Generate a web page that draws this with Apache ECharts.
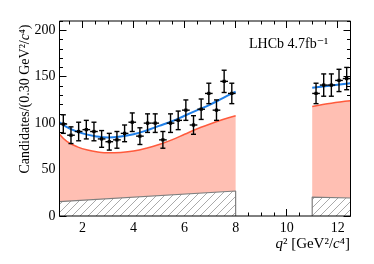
<!DOCTYPE html>
<html>
<head>
<meta charset="utf-8">
<script src="https://cdn.jsdelivr.net/npm/echarts@6/dist/echarts.min.js"></script>
<style>html,body{margin:0;padding:0;background:#fff}#c{width:374px;height:264px}</style>
</head>
<body>
<div id="c"></div>
<script>
// ---- data ----
const binCentersLow = [1.25,1.55,1.85,2.15,2.45,2.75,3.05,3.35,3.65,3.95,4.25,4.55,4.85,5.15,5.45,5.75,6.05,6.35,6.65,6.95,7.25,7.55,7.85];
const countsLow     = [99,87,91,93,91,83,80,82,89,101,86,100,100,82,100,103,114,98,115,132,114,145,132];
const errorsLow     = [10,9,10,10,10,9,9,9,9,10,9,10,10,9,10,10,11,10,11,11,11,12,11];
const binCentersHigh = [11.15,11.45,11.75,12.05,12.35];
const countsHigh     = [132,141,141,146,148];
const errorsHigh     = [11,12,12,12,12];
const binHalfWidth = 0.15;

const fitXLow   = [1.1,1.5,2.0,2.5,3.0,3.5,4.0,4.5,5.0,5.5,6.0,6.5,7.0,7.5,8.0];
const totalLow  = [101,94,89,86,84.5,85.5,88,92,97,102,108,114,120,127,134];
const redXLow   = [1.1,1.4,1.8,2.2,2.6,3.0,3.5,4.0,4.5,5.0,5.5,6.0,6.5,7.0,7.5,8.0];
const redLow    = [88,80,74.5,71,69,68,68.5,70,73,77,82,88,94,99,104,108];
const fitXHigh  = [11.0,11.75,12.5];
const totalHigh = [138,140.5,143];
const redHigh   = [118,121.5,124];
const bkgXLow   = [1.1,8.0];
const bkgLow    = [15.4,26.9];
const bkgXHigh  = [11.0,12.5];
const bkgHigh   = [20.4,19.4];

// axis ranges and tick steps
const X_MIN = 1.1, X_MAX = 12.5, Y_MIN = 0, Y_MAX = 210;
const X_MAJOR = 2, X_MINOR = 0.5, Y_MAJOR = 50, Y_MINOR = 10;

// ---- layout ----
const FONT = '"Liberation Serif", "DejaVu Serif", serif';
const G = { left: 59.5, top: 21, width: 291, height: 195 };
const ppx = G.width / (X_MAX - X_MIN);
const ppy = G.height / (Y_MAX - Y_MIN);
const zip = (xs, ys) => xs.map((x, i) => [x, ys[i]]);

// tick grids whose axis minimum is a multiple of the tick interval, aligned with the main grid
function xTickGrid(step) {
  const lo = Math.ceil(X_MIN / step - 1e-9) * step, hi = Math.floor(X_MAX / step + 1e-9) * step;
  return { lo, hi, grid: { left: G.left + (lo - X_MIN) * ppx, top: G.top, width: (hi - lo) * ppx, height: G.height, show: false } };
}
function yTickGrid(step) {
  const lo = Math.ceil(Y_MIN / step - 1e-9) * step, hi = Math.floor(Y_MAX / step + 1e-9) * step;
  return { lo, hi, grid: { left: G.left, top: G.top + (Y_MAX - hi) * ppy, width: G.width, height: (hi - lo) * ppy, show: false } };
}
const gxMaj = xTickGrid(X_MAJOR), gxMin = xTickGrid(X_MINOR), gyMaj = yTickGrid(Y_MAJOR), gyMin = yTickGrid(Y_MINOR);

const hidden = (type, gi, min, max) => ({ type: 'value', gridIndex: gi, min, max, show: false });
function tickX(gi, g, step, pos, len, labels) {
  return { type: 'value', gridIndex: gi, min: g.lo, max: g.hi, interval: step, position: pos,
    axisLine: { show: false },
    axisTick: { show: true, inside: true, length: len, lineStyle: { color: '#000', width: 1 } },
    axisLabel: labels ? { show: true, margin: 5, color: '#000', fontFamily: FONT, fontSize: 14, showMinLabel: true, showMaxLabel: true } : { show: false },
    splitLine: { show: false } };
}
function tickY(gi, g, step, pos, len, labels) {
  return { type: 'value', gridIndex: gi, min: g.lo, max: g.hi, interval: step, position: pos,
    axisLine: { show: false },
    axisTick: { show: true, inside: true, length: len, lineStyle: { color: '#000', width: 1 } },
    axisLabel: labels ? { show: true, margin: 4, color: '#000', fontFamily: FONT, fontSize: 14, showMinLabel: true, showMaxLabel: true } : { show: false },
    splitLine: { show: false } };
}

const hatch = document.createElement('canvas');
hatch.width = 8; hatch.height = 8;
(function(){
  const g = hatch.getContext('2d');
  g.fillStyle = '#ffffff'; g.fillRect(0,0,8,8);
  g.strokeStyle = '#a0a0a0'; g.lineWidth = 0.9;
  g.beginPath(); g.moveTo(0,8); g.lineTo(8,0); g.stroke();
  g.beginPath(); g.moveTo(-1,1); g.lineTo(1,-1); g.stroke();
  g.beginPath(); g.moveTo(7,9); g.lineTo(9,7); g.stroke();
})();

function errRender(params, api) {
  const x = api.value(0), y = api.value(1), e = api.value(2);
  const c = api.coord([x, y]);
  const l = api.coord([x - binHalfWidth, y]);
  const r = api.coord([x + binHalfWidth, y]);
  const t = api.coord([x, y + e]);
  const b = api.coord([x, y - e]);
  const st = { stroke: '#000', lineWidth: 1.4 };
  return { type: 'group', children: [
    { type: 'line', shape: { x1: l[0], y1: c[1], x2: r[0], y2: c[1] }, style: st },
    { type: 'line', shape: { x1: c[0], y1: t[1], x2: c[0], y2: b[1] }, style: st },
    { type: 'line', shape: { x1: c[0]-2.5, y1: t[1], x2: c[0]+2.5, y2: t[1] }, style: st },
    { type: 'line', shape: { x1: c[0]-2.5, y1: b[1], x2: c[0]+2.5, y2: b[1] }, style: st },
    { type: 'rect', shape: { x: c[0]-1.6, y: c[1]-1.6, width: 3.2, height: 3.2 }, style: { fill: '#000' } }
  ] };
}

const chart = echarts.init(document.getElementById('c'), null, { renderer: 'canvas' });
const redArea = { color: '#ffbfb3', opacity: 1 };
const redLine = { color: '#ff5a3c', width: 1.5 };
const blueLine = { color: '#1f7fe8', width: 2 };
const bkgLine = { color: '#7f7f7f', width: 1.2 };
const hatchArea = { color: { image: hatch, repeat: 'repeat' }, opacity: 1 };

chart.setOption({
  animation: false,
  backgroundColor: '#fff',
  grid: [
    { left: G.left, top: G.top, width: G.width, height: G.height, show: true, borderColor: '#000', borderWidth: 1, backgroundColor: 'transparent', z: 10 },
    gxMaj.grid, gxMin.grid, gyMaj.grid, gyMin.grid
  ],
  xAxis: [
    hidden('x', 0, X_MIN, X_MAX),
    tickX(1, gxMaj, X_MAJOR, 'bottom', 7, true),
    tickX(1, gxMaj, X_MAJOR, 'top', 7, false),
    tickX(2, gxMin, X_MINOR, 'bottom', 3.5, false),
    tickX(2, gxMin, X_MINOR, 'top', 3.5, false),
    hidden('x', 3, X_MIN, X_MAX),
    hidden('x', 4, X_MIN, X_MAX)
  ],
  yAxis: [
    hidden('y', 0, Y_MIN, Y_MAX),
    hidden('y', 1, Y_MIN, Y_MAX),
    hidden('y', 2, Y_MIN, Y_MAX),
    tickY(3, gyMaj, Y_MAJOR, 'left', 7, true),
    tickY(3, gyMaj, Y_MAJOR, 'right', 7, false),
    tickY(4, gyMin, Y_MINOR, 'left', 3.5, false),
    tickY(4, gyMin, Y_MINOR, 'right', 3.5, false)
  ],
  series: [
    { type: 'line', data: zip(redXLow, redLow), smooth: 0.4, symbol: 'none', lineStyle: redLine, areaStyle: redArea, z: 1 },
    { type: 'line', data: zip(fitXHigh, redHigh), smooth: 0.4, symbol: 'none', lineStyle: redLine, areaStyle: redArea, z: 1 },
    { type: 'line', data: zip(bkgXLow, bkgLow).concat([[bkgXLow[1], 0]]), symbol: 'none', lineStyle: bkgLine, areaStyle: hatchArea, z: 2 },
    { type: 'line', data: [[bkgXHigh[0], 0]].concat(zip(bkgXHigh, bkgHigh)), symbol: 'none', lineStyle: bkgLine, areaStyle: hatchArea, z: 2 },
    { type: 'line', data: zip(fitXLow, totalLow), smooth: 0.4, symbol: 'none', lineStyle: blueLine, z: 3 },
    { type: 'line', data: zip(fitXHigh, totalHigh), smooth: 0.4, symbol: 'none', lineStyle: blueLine, z: 3 },
    { type: 'custom', renderItem: errRender, data: binCentersLow.map((x, i) => [x, countsLow[i], errorsLow[i]]), z: 4, clip: false },
    { type: 'custom', renderItem: errRender, data: binCentersHigh.map((x, i) => [x, countsHigh[i], errorsHigh[i]]), z: 4, clip: false }
  ],
  graphic: [
    { type: 'text', x: 25, y: 99, rotation: Math.PI / 2,
      style: { text: 'Candidates/(0.30 GeV²/{i|c}⁴)', fill: '#000', font: '14px ' + FONT, align: 'center', verticalAlign: 'middle',
        rich: { i: { fontStyle: 'italic', fontFamily: FONT, fontSize: 14 } } } },
    { type: 'text', x: 350, y: 244,
      style: { text: '{i|q}² [GeV²/{i|c}⁴]', fill: '#000', font: '15px ' + FONT, align: 'right', verticalAlign: 'middle',
        rich: { i: { fontStyle: 'italic', fontFamily: FONT, fontSize: 15 } } } },
    { type: 'text', x: 249, y: 44,
      style: { text: 'LHCb 4.7fb⁻¹', fill: '#000', font: '14px ' + FONT, align: 'left', verticalAlign: 'middle' } }
  ]
});
</script>
</body>
</html>
